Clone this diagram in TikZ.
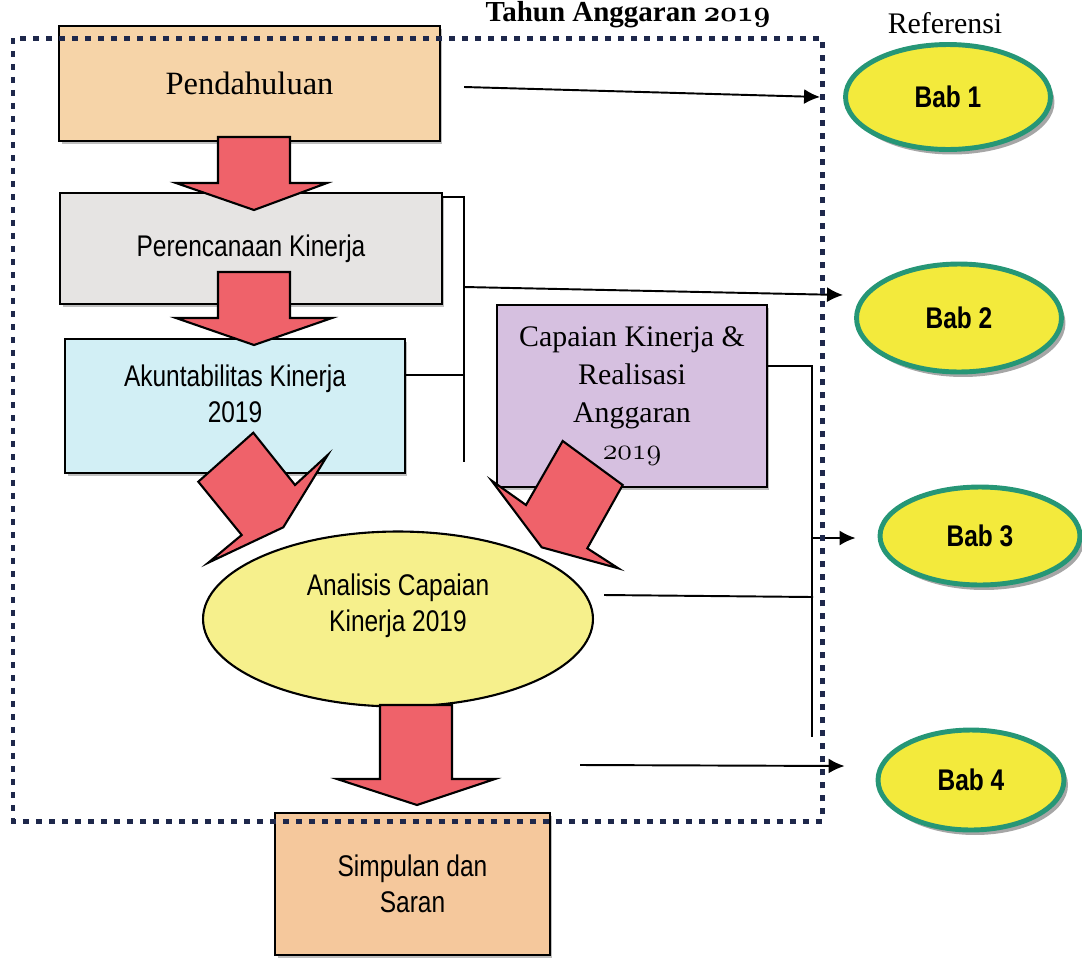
\documentclass[tikz,border=0pt]{standalone}
\usepackage{fix-cm}
\usepackage{fontspec}
\setmainfont{Liberation Serif}
\newfontfamily\narrowsf[FakeStretch=0.82]{Liberation Sans}
\usetikzlibrary{shapes,arrows.meta,positioning,shadows}
\newcommand{\osnum}[1]{\ensuremath{\mathnormal{#1}}}
\definecolor{peachbox}{RGB}{246,212,168}
\definecolor{simbox}{RGB}{245,200,156}
\definecolor{graybox}{RGB}{230,228,227}
\definecolor{cyanbox}{RGB}{210,239,245}
\definecolor{lavbox}{RGB}{214,192,224}
\definecolor{anayellow}{RGB}{246,240,140}
\definecolor{babyellow}{RGB}{243,234,60}
\definecolor{babteal}{RGB}{38,150,118}
\definecolor{arrowred}{RGB}{239,98,106}
\definecolor{framenavy}{RGB}{30,40,75}

\begin{document}
\begin{tikzpicture}[x=0.02cm, y=-0.02cm,
    box/.style={draw, line width=1.4pt, inner sep=0pt, align=center,
      general shadow={fill=black!25, shadow xshift=0.05cm, shadow yshift=-0.06cm}},
    bab/.style={ellipse, draw=babteal, line width=2.8pt, fill=babyellow, inner sep=0pt,
      font=\narrowsf\bfseries\fontsize{17}{20}\selectfont,
      general shadow={fill=black!35, shadow xshift=0.08cm, shadow yshift=-0.1cm}},
    redarrow/.style={draw, line width=1.2pt, fill=arrowred, line join=miter},
    link/.style={line width=1.1pt},
    linkto/.style={link, -{Latex[length=0.32cm,width=0.3cm]}},
    frameline/.style={draw=framenavy, line width=0.1cm, dash pattern=on 0.12cm off 0.14cm},
    serifbig/.style={font=\fontsize{18.5}{22}\selectfont},
    sanstext/.style={font=\narrowsf\fontsize{17}{20.5}\selectfont}]
  \clip (0,0) rectangle (1082,957);
  \useasboundingbox (0,0) rectangle (1082,957);

  \node[font=\bfseries\boldmath\fontsize{16.5}{19}\selectfont, anchor=base] (judul) at (628,21) {Tahun Anggaran \osnum{2019}};
  \node[font=\fontsize{17}{20}\selectfont] (refs) at (945,23) {Referensi};

  \node[box, fill=peachbox, minimum width=7.62cm, minimum height=2.3cm, serifbig] (pend) at (249.5,83.5) {Pendahuluan};
  \node[box, fill=graybox, minimum width=7.64cm, minimum height=2.22cm, sanstext] (renc) at (251,248.5) {Perencanaan Kinerja};
  \node[box, fill=cyanbox, minimum width=6.8cm, minimum height=2.68cm,
    label={[name=akun-text, sanstext, align=center, yshift=0.24cm]center:Akuntabilitas Kinerja\\2019}] (akun) at (235,406) {};
  \node[box, fill=lavbox, minimum width=5.4cm, minimum height=3.64cm, font=\fontsize{17}{21.6}\selectfont] (capai) at (632,396)
    {Capaian Kinerja \&\\Realisasi\\Anggaran\\\osnum{2019}};
  \node[ellipse, draw, line width=1.2pt, fill=anayellow, minimum width=7.8cm, minimum height=3.5cm, inner sep=0pt,
    label={[name=anal-text, sanstext, align=center, yshift=0.26cm]center:Analisis Capaian\\Kinerja 2019}] (anal) at (398,619) {};
  \node[box, fill=simbox, minimum width=5.5cm, minimum height=2.84cm, sanstext] (simp) at (412.5,884) {Simpulan dan\\Saran};

  \node[bab, minimum width=4.1cm, minimum height=2.1cm] (bab1) at (948,97) {Bab 1};
  \node[bab, minimum width=4.1cm, minimum height=2.16cm] (bab2) at (959,318) {Bab 2};
  \node[bab, minimum width=4.0cm, minimum height=1.96cm] (bab3) at (980,536) {Bab 3};
  \node[bab, minimum width=3.72cm, minimum height=2.0cm] (bab4) at (971,780) {Bab 4};

  \coordinate (spineA-bot) at (464,462);
  \coordinate (spineA-out) at (464,287);
  \coordinate (spineB-bot) at (812,737);
  \coordinate (spineB-out) at (812,538);
  \coordinate (b4out) at (580,765);

  \draw[linkto] ([xshift=0.46cm,yshift=-0.07cm]pend.east) -- ([xshift=-0.46cm]bab1.west);
  \draw[link] ([yshift=-0.1cm]renc.north east) -| (spineA-bot);
  \draw[link] ([yshift=0.62cm]akun.east) -- ++(59,0);
  \draw[linkto] (spineA-out) -- ([xshift=-0.22cm,yshift=0.46cm]bab2.west);
  \draw[link] ([yshift=0.6cm]capai.east) -| (spineB-bot);
  \draw[linkto] (spineB-out) -- ([xshift=-0.44cm,yshift=-0.04cm]bab3.west);
  \draw[link] ([xshift=0.2cm,yshift=0.48cm]anal.east) -- ++(209,2);
  \draw[linkto] (b4out) -- ([xshift=-0.62cm,yshift=0.28cm]bab4.west);

  \draw[redarrow] (218,137) -- (290,137) -- (290,183) -- (327,183) -- (254,210) -- (176,183) -- (218,183) -- cycle;
  \draw[redarrow] (218,272) -- (290,272) -- (290,318) -- (332,318) -- (254,345) -- (176,318) -- (218,318) -- cycle;
  \draw[redarrow] (253.3,432.7) -- (295,485) -- (327.7,455) -- (283.3,527.3) -- (208.3,562.7) -- (241.7,535) -- (198.3,481.7) -- cycle;
  \draw[redarrow] (562.7,441) -- (622.7,485) -- (587.3,548.3) -- (618.3,568.3) -- (541.7,547.3) -- (491.7,480.7) -- (526,505) -- cycle;
  \draw[redarrow] (380,705) -- (452,705) -- (452,779) -- (495,779) -- (417,805) -- (337,779) -- (380,779) -- cycle;

  \draw[frameline] (13,38) rectangle (822,821);
\end{tikzpicture}
\end{document}
